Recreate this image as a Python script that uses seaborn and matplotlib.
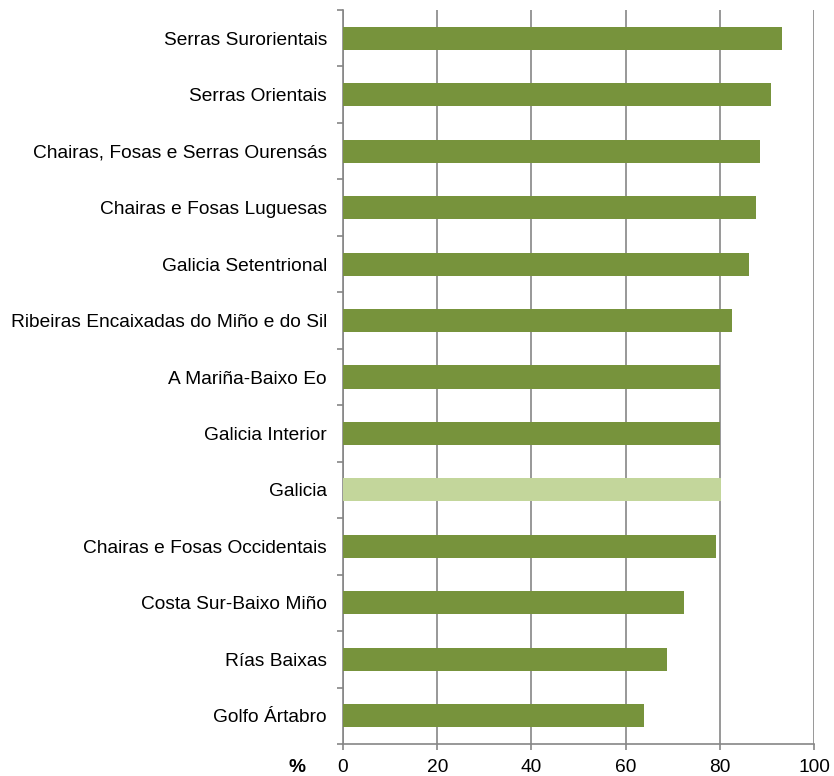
import matplotlib
matplotlib.use("Agg")
import matplotlib.pyplot as plt
import seaborn as sns
import pandas as pd
import numpy as np


# ==========================================
# DATA
# ==========================================

regions = [
    "Serras Surorientais",
    "Serras Orientais",
    "Chairas, Fosas e Serras Ourensás",
    "Chairas e Fosas Luguesas",
    "Galicia Setentrional",
    "Ribeiras Encaixadas do Miño e do Sil",
    "A Mariña-Baixo Eo",
    "Galicia Interior",
    "Galicia",
    "Chairas e Fosas Occidentais",
    "Costa Sur-Baixo Miño",
    "Rías Baixas",
    "Golfo Ártabro",
]

values = [93.2, 90.9, 88.5, 87.6, 86.2, 82.5, 80.1, 80.1, 80.3, 79.2, 72.4, 68.8, 64.0]

x_ticks = [0, 20, 40, 60, 80, 100]

df = pd.DataFrame({"region": regions, "value": values})


# ==========================================
# STYLE
# ==========================================

sns.set_style("white")
plt.rcParams["font.family"] = ["Liberation Sans", "DejaVu Sans"]
plt.rcParams["text.color"] = "black"
plt.rcParams["xtick.labelcolor"] = "black"
plt.rcParams["ytick.labelcolor"] = "black"

dark_green = "#77933C"
light_green = "#C3D69B"
grid_grey = "#868686"

palette = [light_green if r == "Galicia" else dark_green for r in regions]


# ==========================================
# PLOT
# ==========================================

fig = plt.figure(figsize=(8.34, 7.76), dpi=100)
ax = fig.add_axes([343 / 834, 32 / 776, 471 / 834, 734 / 776])

sns.barplot(
    data=df,
    x="value",
    y="region",
    hue="region",
    palette=palette,
    legend=False,
    width=0.41,
    saturation=1,
    linewidth=0,
    ax=ax,
    zorder=3
)

ax.set_xlim(0, 100)
ax.set_ylim(len(regions) - 0.5, -0.5)
ax.set_xticks(x_ticks)
ax.set_xlabel("")
ax.set_ylabel("")

# vertical gridlines
ax.set_axisbelow(True)
ax.grid(axis="x", color=grid_grey, linewidth=1.2)
ax.grid(axis="y", visible=False)

for side in ["top", "right"]:
    ax.spines[side].set_visible(False)
for side in ["left", "bottom"]:
    ax.spines[side].set_color(grid_grey)
    ax.spines[side].set_linewidth(1.2)

# category labels without tick marks, boundary ticks as minor
ax.set_yticks(np.arange(-0.5, len(regions), 1), minor=True)
ax.tick_params(axis="y", which="major", left=False, length=0, pad=11.5,
               labelsize=13.8)
ax.tick_params(axis="y", which="minor", left=True, length=4.5,
               color=grid_grey, width=1.2)
ax.tick_params(axis="x", which="major", bottom=True, length=4.5,
               color=grid_grey, width=1.2, labelsize=13.8, pad=6.5)

fig.text(297 / 834, 9 / 776, "%", fontsize=13.8, fontweight="bold",
         ha="center", va="center")

plt.savefig("out.png", dpi=100)
plt.close()
